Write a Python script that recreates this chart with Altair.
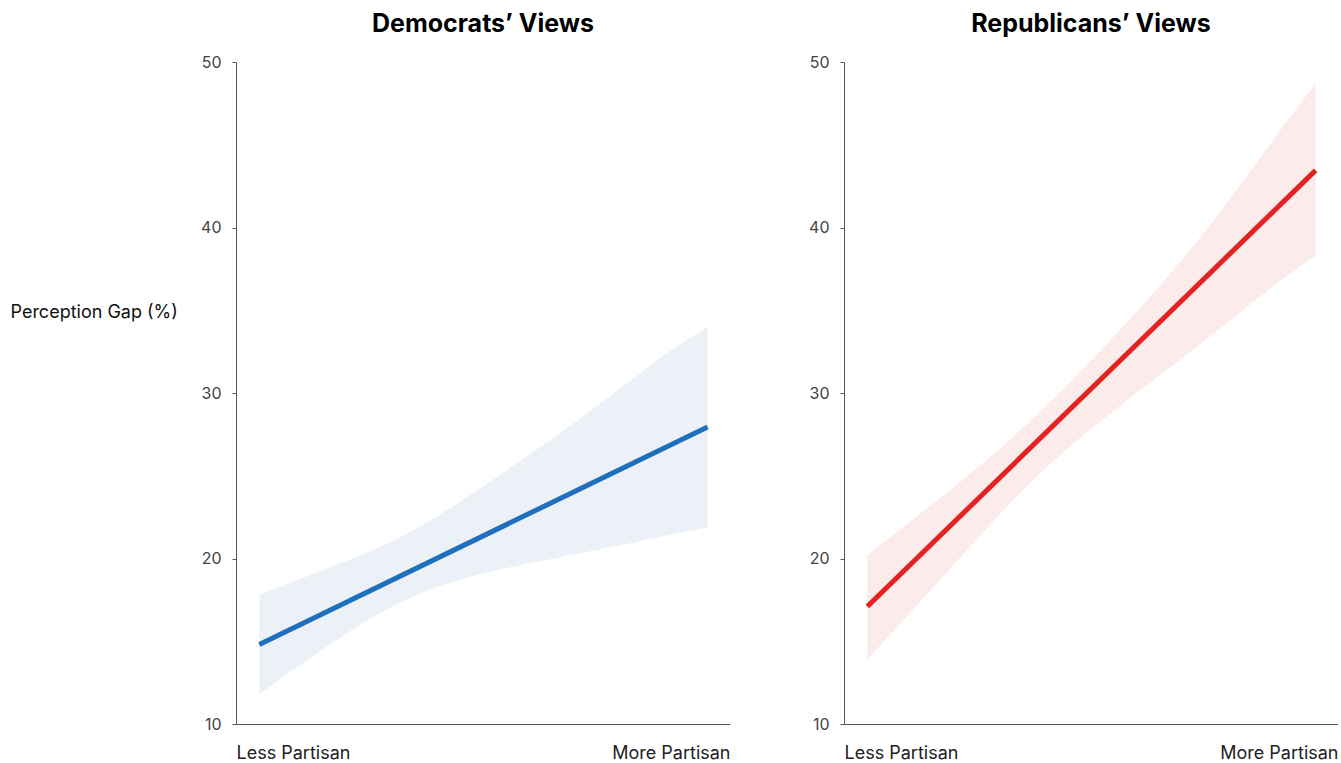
import altair as alt
import pandas as pd

# ---- data ----
partisanship = [0.0, 0.17, 0.32, 0.47, 0.62, 0.77, 0.91, 1.0]

dem_upper = [17.8, 19.6, 21.2, 23.8, 26.6, 29.5, 32.5, 34.0]
dem_lower = [11.8, 15.1, 17.6, 19.0, 19.8, 20.6, 21.4, 21.9]
dem_fit_x = [0.0, 1.0]
dem_fit = [14.8, 27.95]

rep_upper = [20.2, 23.8, 27.1, 31.1, 35.4, 40.2, 45.5, 48.7]
rep_lower = [13.9, 18.9, 23.5, 27.3, 30.4, 33.5, 36.6, 38.3]
rep_fit_x = [0.0, 1.0]
rep_fit = [17.1, 43.45]

x_labels = ["Less Partisan", "More Partisan"]
y_ticks = [10, 20, 30, 40, 50]
titles = ["Democrats\u2019 Views", "Republicans\u2019 Views"]
y_title = "Perception Gap (%)"

FONT = "Inter"
X_DOMAIN = [-0.052, 1.05]


def panel(title, t, lo, hi, fx, fy, line_color, band_color, show_y_title):
    band_df = pd.DataFrame({"t": t, "lo": lo, "hi": hi})
    line_df = pd.DataFrame({"t": fx, "v": fy})

    x_axis = alt.Axis(
        values=X_DOMAIN,
        labelExpr=f"datum.value < 0.5 ? '{x_labels[0]}' : '{x_labels[1]}'",
        ticks=False,
        grid=False,
        labelFlush=True,
        title=None,
        labelFontSize=18,
        labelColor="#222222",
        labelPadding=20,
        labelFont=FONT,
        domainColor="#555555",
    )
    y_kwargs = dict(
        values=y_ticks,
        grid=False,
        tickSize=4,
        tickColor="#555555",
        domainColor="#555555",
        labelFontSize=16,
        labelColor="#444444",
        labelPadding=11,
        labelFont=FONT,
    )
    if show_y_title:
        y_kwargs.update(
            title=y_title,
            titleAngle=0,
            titleAlign="left",
            titleX=-226,
            titleY=255,
            titleBaseline="alphabetic",
            titleFontWeight="normal",
            titleFontSize=18,
            titleFont=FONT,
            titleColor="#111111",
        )
    else:
        y_kwargs.update(title=None)
    y_axis = alt.Axis(**y_kwargs)

    xs = alt.Scale(domain=X_DOMAIN, nice=False, zero=False)
    ys = alt.Scale(domain=[10, 50], nice=False, zero=False)

    band = alt.Chart(band_df).mark_area(
        color=band_color, opacity=1, interpolate="basis"
    ).encode(
        x=alt.X("t:Q", scale=xs, axis=x_axis),
        y=alt.Y("lo:Q", scale=ys, axis=y_axis),
        y2="hi:Q",
    )
    line = alt.Chart(line_df).mark_line(
        color=line_color, strokeWidth=5, strokeCap="butt"
    ).encode(
        x=alt.X("t:Q", scale=xs),
        y=alt.Y("v:Q", scale=ys),
    )
    return alt.layer(band, line).properties(
        width=494,
        height=662,
        title=alt.TitleParams(
            text=title,
            fontSize=25,
            fontWeight="bold",
            font=FONT,
            color="#000000",
            offset=17,
            anchor="middle",
        ),
    )


left = panel(titles[0], partisanship, dem_lower, dem_upper, dem_fit_x, dem_fit,
             "#1f6fbd", "#ecf1f8", True)
right = panel(titles[1], partisanship, rep_lower, rep_upper, rep_fit_x, rep_fit,
              "#e42320", "#fbebea", False)

chart = alt.hconcat(left, right, spacing=78).properties(
    padding={"left": 10, "top": 12, "right": 0, "bottom": 0}
).configure(font=FONT).configure_view(stroke=None, strokeWidth=0)

chart.save("out.html", embed_options={"renderer": "svg", "actions": False})
